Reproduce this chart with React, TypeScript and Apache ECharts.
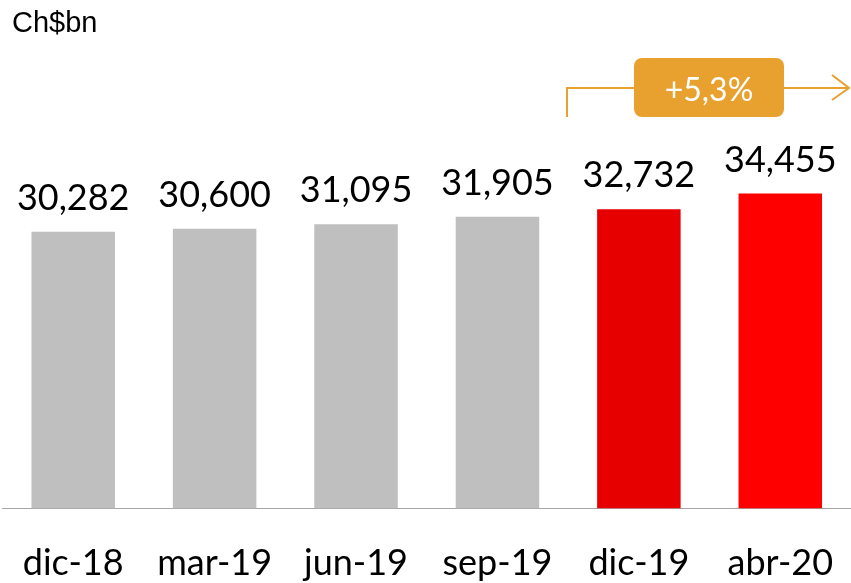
import React, { useEffect, useRef } from "react";
import * as echarts from "echarts";

const categories = ["dic-18", "mar-19", "jun-19", "sep-19", "dic-19", "abr-20"];
const values = [30282, 30600, 31095, 31905, 32732, 34455];
const unitLabel = "Ch$bn";
const growthLabel = "+5,3%";

const GRAY = "#bfbfbf";
const barColors = [GRAY, GRAY, GRAY, GRAY, "#e60000", "#ff0000"];
const ORANGE = "#e8a02e";
const FONT = "Lato, 'Open Sans', sans-serif";

export default function App() {
  const ref = useRef<HTMLDivElement>(null);
  useEffect(() => {
    if (!ref.current) return;
    const chart = echarts.init(ref.current, undefined, { renderer: "svg" });
    chart.setOption({
      animation: false,
      grid: { left: 2.5, top: 142.9, width: 851.4, height: 365.4, containLabel: false },
      xAxis: {
        type: "category",
        data: categories,
        axisLine: { show: true, lineStyle: { color: "#a6a6a6", width: 1 } },
        axisTick: { show: false },
        axisLabel: { color: "#000", fontSize: 36, fontFamily: FONT, margin: 35, interval: 0 },
      },
      yAxis: {
        type: "value",
        min: 0,
        max: 40000,
        show: false,
        splitLine: { show: false },
      },
      series: [
        {
          type: "bar",
          barWidth: 83.5,
          data: values.map((v, i) => ({ value: v, itemStyle: { color: barColors[i] } })),
          label: {
            show: true,
            position: "top",
            distance: 18,
            color: "#000",
            fontSize: 36,
            fontFamily: FONT,
            formatter: (p: any) => Number(p.value).toLocaleString("en-US"),
          },
        },
      ],
      graphic: [
        {
          type: "text",
          left: 12,
          top: 7,
          style: { text: unitLabel, fontSize: 29, fontFamily: "'Liberation Sans', Arial, sans-serif", fill: "#000" },
        },
        {
          type: "polyline",
          shape: { points: [[567, 117], [567, 88], [849, 88]] },
          style: { stroke: ORANGE, lineWidth: 2, fill: "none" },
        },
        {
          type: "polyline",
          shape: { points: [[832, 75], [849, 88], [832, 100]] },
          style: { stroke: ORANGE, lineWidth: 2, fill: "none" },
        },
        {
          type: "rect",
          shape: { x: 634, y: 58, width: 150, height: 59, r: 8 },
          style: { fill: ORANGE },
        },
        {
          type: "text",
          x: 709,
          y: 88,
          style: {
            text: growthLabel,
            fontSize: 32,
            fontFamily: FONT,
            fill: "#fff",
            align: "center",
            verticalAlign: "middle",
          },
        },
      ],
    });
    return () => chart.dispose();
  }, []);
  return <div ref={ref} style={{ position: "fixed", left: 0, top: 0, width: 851, height: 583 }} />;
}
